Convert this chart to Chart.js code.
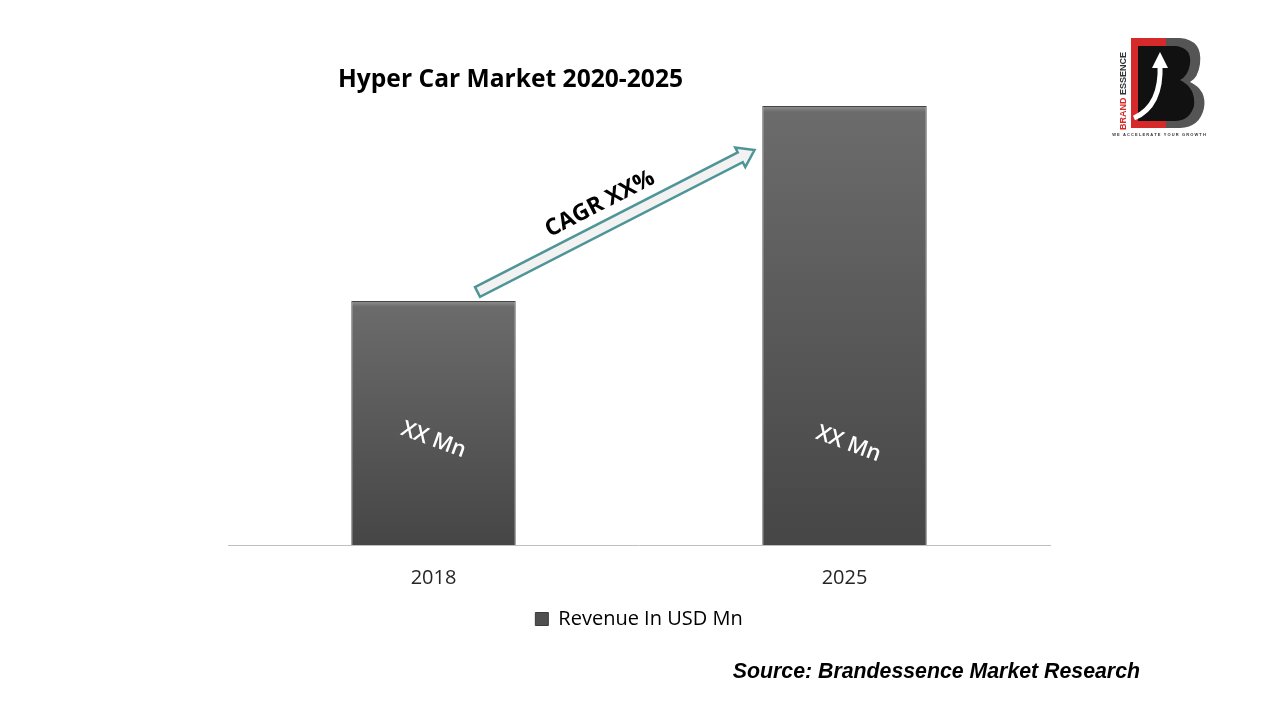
<!DOCTYPE html>
<html>
<head>
<meta charset="utf-8">
<script src="https://cdn.jsdelivr.net/npm/chart.js@4/dist/chart.umd.min.js"></script>
<style>
  html, body { margin: 0; padding: 0; background: #fff; }
  #wrap { width: 1279px; height: 720px; }
</style>
</head>
<body>
<div id="wrap"><canvas id="chart" width="1279" height="720"></canvas></div>
<script>
const categories = ["2018", "2025"];
const revenue = [48.8, 87.8];
const barLabels = ["XX Mn", "XX Mn"];
const seriesName = "Revenue In USD Mn";
const chartTitle = "Hyper Car Market 2020-2025";
const cagrText = "CAGR XX%";
const sourceText = "Source: Brandessence Market Research";

// each bar gets its own top-to-bottom gradient
function barFill(context) {
  const chart = context.chart;
  const area = chart.chartArea;
  if (!area || context.raw == null) return "#575757";
  const top = chart.scales.y.getPixelForValue(context.raw);
  const g = chart.ctx.createLinearGradient(0, top, 0, area.bottom);
  g.addColorStop(0, "#6c6c6c");
  g.addColorStop(1, "#464646");
  return g;
}

function drawLogo(ctx) {
  ctx.save();
  ctx.fillStyle = "#d62a2a";
  ctx.fillRect(1131, 38, 36, 90);
  ctx.fillStyle = "#555";
  ctx.beginPath();
  ctx.moveTo(1166, 38);
  ctx.lineTo(1180, 38);
  ctx.quadraticCurveTo(1203, 40, 1200, 64);
  ctx.quadraticCurveTo(1198, 78, 1190, 82);
  ctx.quadraticCurveTo(1207, 90, 1204, 108);
  ctx.quadraticCurveTo(1200, 127, 1180, 128);
  ctx.lineTo(1166, 128);
  ctx.closePath();
  ctx.fill();
  ctx.fillStyle = "#111";
  ctx.beginPath();
  ctx.moveTo(1138, 46);
  ctx.lineTo(1176, 46);
  ctx.quadraticCurveTo(1192, 48, 1190, 64);
  ctx.quadraticCurveTo(1188, 76, 1180, 80);
  ctx.quadraticCurveTo(1196, 88, 1194, 106);
  ctx.quadraticCurveTo(1190, 120, 1176, 121);
  ctx.lineTo(1138, 121);
  ctx.closePath();
  ctx.fill();
  ctx.strokeStyle = "#fff";
  ctx.lineWidth = 5;
  ctx.beginPath();
  ctx.moveTo(1134, 118);
  ctx.quadraticCurveTo(1162, 106, 1160, 64);
  ctx.stroke();
  ctx.fillStyle = "#fff";
  ctx.beginPath();
  ctx.moveTo(1160, 52);
  ctx.lineTo(1152, 68);
  ctx.lineTo(1168, 68);
  ctx.closePath();
  ctx.fill();
  ctx.translate(1124, 130);
  ctx.rotate(-Math.PI / 2);
  ctx.font = "bold 9px 'Liberation Sans', Arial, sans-serif";
  ctx.textBaseline = "middle";
  ctx.textAlign = "left";
  ctx.fillStyle = "#d62a2a";
  ctx.fillText("BRAND", 0, 0);
  const w = ctx.measureText("BRAND ").width;
  ctx.fillStyle = "#333";
  ctx.fillText("ESSENCE", w, 0);
  ctx.restore();
  ctx.save();
  ctx.font = "bold 4px 'Liberation Sans', Arial, sans-serif";
  ctx.fillStyle = "#333";
  ctx.textAlign = "center";
  ctx.textBaseline = "middle";
  ctx.fillText("W E   A C C E L E R A T E   Y O U R   G R O W T H", 1159, 135);
  ctx.restore();
}

const decorPlugin = {
  id: "decor",
  afterDatasetsDraw(chart) {
    const ctx = chart.ctx;
    const bars = chart.getDatasetMeta(0).data;

    // light bevel on the top edge of each bar
    ctx.save();
    bars.forEach((bar) => {
      const left = bar.x - bar.width / 2;
      const g = ctx.createLinearGradient(0, bar.y, 0, bar.y + 6);
      g.addColorStop(0, "rgba(255,255,255,0.25)");
      g.addColorStop(1, "rgba(255,255,255,0)");
      ctx.fillStyle = g;
      ctx.fillRect(left + 1, bar.y + 1, bar.width - 2, 6);
    });
    ctx.restore();

    // bar value labels
    ctx.save();
    ctx.font = "600 22px 'Open Sans', sans-serif";
    ctx.fillStyle = "#ffffff";
    ctx.textAlign = "center";
    ctx.textBaseline = "middle";
    bars.forEach((bar, i) => {
      ctx.save();
      ctx.translate(bar.x + (i === 0 ? 0 : 4), 440 + i * 4);
      ctx.rotate(20 * Math.PI / 180);
      ctx.fillText(barLabels[i], 0, 0);
      ctx.restore();
    });
    ctx.restore();

    // CAGR arrow from first bar top towards second bar top
    const x0 = bars[0].x + 44, y0 = bars[0].y - 9;
    const x1 = bars[1].x - 90, y1 = bars[1].y + 44;
    const ang = Math.atan2(y1 - y0, x1 - x0);
    const len = Math.hypot(x1 - x0, y1 - y0);
    const hw = 5.5, headW = 11, headL = 16;
    ctx.save();
    ctx.translate(x0, y0);
    ctx.rotate(ang);
    ctx.beginPath();
    ctx.moveTo(0, -hw);
    ctx.lineTo(len - headL, -hw);
    ctx.lineTo(len - headL, -headW);
    ctx.lineTo(len, 0);
    ctx.lineTo(len - headL, headW);
    ctx.lineTo(len - headL, hw);
    ctx.lineTo(0, hw);
    ctx.closePath();
    ctx.fillStyle = "#f2f2f2";
    ctx.fill();
    ctx.strokeStyle = "#4e9597";
    ctx.lineWidth = 2.5;
    ctx.stroke();
    ctx.restore();

    ctx.save();
    ctx.translate(600, 204);
    ctx.rotate(ang);
    ctx.font = "bold 23px 'Open Sans', sans-serif";
    ctx.fillStyle = "#000";
    ctx.textAlign = "center";
    ctx.textBaseline = "middle";
    ctx.fillText(cagrText, 0, 0);
    ctx.restore();

    // title
    ctx.save();
    ctx.font = "bold 24.6px 'Open Sans', sans-serif";
    ctx.fillStyle = "#000";
    ctx.textAlign = "left";
    ctx.textBaseline = "middle";
    ctx.fillText(chartTitle, 338, 80);
    ctx.restore();

    // source
    ctx.save();
    ctx.font = "italic bold 21.3px 'Liberation Sans', Arial, sans-serif";
    ctx.fillStyle = "#000";
    ctx.textAlign = "right";
    ctx.textBaseline = "middle";
    ctx.fillText(sourceText, 1140, 672);
    ctx.restore();

    drawLogo(ctx);
  }
};

new Chart(document.getElementById("chart"), {
  type: "bar",
  data: {
    labels: categories,
    datasets: [{
      label: seriesName,
      data: revenue,
      backgroundColor: barFill,
      borderColor: "#444",
      borderWidth: 1,
      barPercentage: 0.8,
      categoryPercentage: 0.5
    }]
  },
  options: {
    responsive: false,
    animation: false,
    layout: { padding: { left: 228, right: 229, top: 45, bottom: 81 } },
    plugins: {
      title: { display: false },
      tooltip: { enabled: false },
      legend: {
        position: "bottom",
        labels: {
          font: { family: "'Open Sans', sans-serif", size: 20 },
          color: "#262626",
          boxWidth: 13,
          boxHeight: 13,
          padding: 10,
          generateLabels: () => [{
            text: seriesName,
            fillStyle: "#4f4f4f",
            strokeStyle: "#3c3c3c",
            lineWidth: 1,
            datasetIndex: 0
          }]
        }
      }
    },
    scales: {
      x: {
        grid: { display: false, drawTicks: false },
        border: { display: true, color: "#bfbfbf", width: 1 },
        ticks: {
          color: "#262626",
          font: { family: "'Open Sans', sans-serif", size: 20 },
          padding: 21
        },
        afterFit: (scale) => { scale.height = 54; }
      },
      y: {
        display: false,
        min: 0,
        max: 100
      }
    }
  },
  plugins: [decorPlugin]
});
</script>
</body>
</html>
